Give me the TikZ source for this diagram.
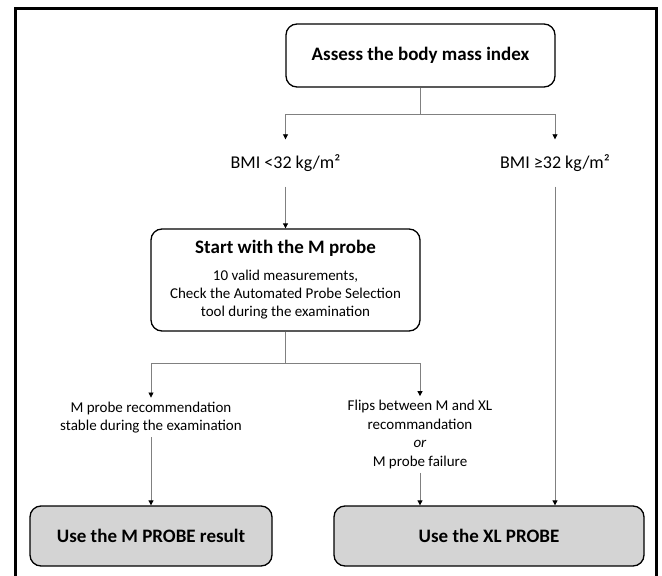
\documentclass[tikz,border=0pt]{standalone}
\usepackage{fontspec}
\setmainfont{Carlito}
\usetikzlibrary{arrows.meta}
\tikzset{
  stepbox/.style={draw, line width=1.3pt, rounded corners=11pt, inner sep=0pt, align=center},
  resultbox/.style={stepbox, fill=black!17, minimum height=60pt, font=\fontsize{19}{22}\selectfont\bfseries},
  branch/.style={inner xsep=2pt, inner ysep=4pt, align=center, font=\fontsize{15}{18.5}\selectfont},
  bmi/.style={branch, inner ysep=15pt, font=\fontsize{18}{22}\selectfont},
  link/.style={draw=black!50, line width=0.8pt},
  arr/.style={link, -{Triangle[color=black, width=5pt, length=5pt]}}
}
\begin{document}
\begin{tikzpicture}[x=1pt, y=-1pt]
\useasboundingbox (0,0) rectangle (662,576);
% frame
\draw[line width=3pt] (15,576) -- (15,8) -- (656,8) -- (656,576);
% boxes and labels
\node[stepbox, minimum width=269pt, minimum height=63pt, font=\fontsize{19}{22}\selectfont\bfseries] (assess) at (420.5,55.5) {Assess the body mass index};
\node[bmi] (bmilow) at (285.5,163) {BMI <32 kg/m²};
\node[bmi] (bmihigh) at (555,163) {BMI ≥32 kg/m²};
\node[stepbox, minimum width=269pt, minimum height=102pt, font=\fontsize{15}{18}\selectfont] (mstart) at (285.5,280) {{\fontsize{19}{18}\selectfont\bfseries Start with the M probe}\\[9pt]10 valid measurements,\\Check the Automated Probe Selection\\tool during the examination};
\node[branch] (stable) at (151,417.5) {M probe recommendation\\stable during the examination};
\node[branch] (flips) at (420,434.5) {Flips between M and XL\\recommandation\\\textit{or}\\M probe failure};
\node[resultbox, minimum width=242pt] (mres) at (151,536) {Use the M PROBE result};
\node[resultbox, minimum width=310pt] (xlres) at (489,536) {Use the XL PROBE};
\coordinate (split1) at (420.5,114);
\coordinate (split2) at (285.5,363);
% connectors
\draw[link] (assess) -- (split1);
\draw[arr] (split1) -| (bmilow);
\draw[arr] (split1) -| (bmihigh);
\draw[arr] (bmilow) -- (mstart);
\draw[link] (mstart) -- (split2);
\draw[arr] (split2) -| (stable);
\draw[arr] (split2) -| (flips);
\draw[arr] (stable) -- (mres);
\draw[arr] (flips) -- (flips |- xlres.north);
\draw[arr] (bmihigh) -- (bmihigh |- xlres.north);
\end{tikzpicture}
\end{document}
